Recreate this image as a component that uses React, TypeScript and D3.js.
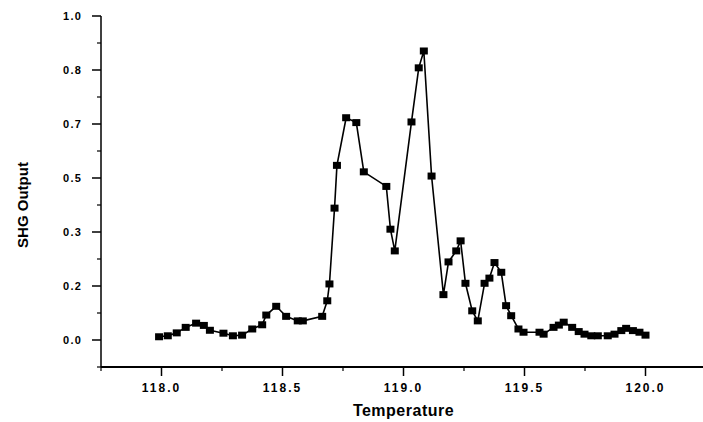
import React from "react";
import * as d3 from "d3";

const temperature: number[] = [
  117.99, 118.026, 118.063, 118.1, 118.143, 118.175, 118.2, 118.256, 118.295, 118.333,
  118.375, 118.416, 118.433, 118.474, 118.515, 118.563, 118.584, 118.664, 118.685, 118.694,
  118.715, 118.725, 118.763, 118.805, 118.836, 118.929, 118.946, 118.964, 119.033, 119.063,
  119.084, 119.116, 119.165, 119.186, 119.218, 119.236, 119.256, 119.284, 119.307, 119.335,
  119.355, 119.376, 119.404, 119.424, 119.445, 119.475, 119.496, 119.562, 119.579, 119.62,
  119.642, 119.662, 119.697, 119.724, 119.748, 119.776, 119.803, 119.844, 119.872, 119.9,
  119.92, 119.948, 119.975, 120.0,
];
const shgOutput: number[] = [
  0.01, 0.013, 0.022, 0.039, 0.052, 0.045, 0.03, 0.021, 0.013, 0.015,
  0.034, 0.047, 0.077, 0.104, 0.073, 0.059, 0.059, 0.073, 0.121, 0.173,
  0.407, 0.539, 0.686, 0.671, 0.519, 0.474, 0.342, 0.275, 0.673, 0.84,
  0.892, 0.506, 0.14, 0.241, 0.275, 0.306, 0.175, 0.09, 0.059, 0.175,
  0.191, 0.239, 0.209, 0.106, 0.075, 0.034, 0.024, 0.024, 0.018, 0.039,
  0.046, 0.055, 0.039, 0.026, 0.018, 0.013, 0.013, 0.013, 0.018, 0.029,
  0.036, 0.029, 0.024, 0.015,
];

const xMajorTicks: number[] = [118.0, 118.5, 119.0, 119.5, 120.0];
const xTickLabels: string[] = ["118.0", "118.5", "119.0", "119.5", "120.0"];
const xMinorTicks: number[] = [117.75, 118.25, 118.75, 119.25, 119.75, 120.25];
const yMajorTicks: number[] = [0, 1 / 6, 2 / 6, 3 / 6, 4 / 6, 5 / 6, 1];
const yTickLabels: string[] = ["0.0", "0.2", "0.3", "0.5", "0.7", "0.8", "1.0"];
const yMinorTicks: number[] = [-1 / 12, 1 / 12, 3 / 12, 5 / 12, 7 / 12, 9 / 12, 11 / 12];

const W = 703;
const H = 422;
const FONT = "'Liberation Sans', Arial, sans-serif";

export default function App() {
  const x = d3.scaleLinear().domain([117.75, 120.25]).range([101, 706]);
  const y = d3.scaleLinear().domain([-1 / 12, 1]).range([367, 16]);
  const pts = temperature.map((t, i) => [t, shgOutput[i]] as [number, number]);
  const line = d3
    .line<[number, number]>()
    .x((d) => x(d[0]))
    .y((d) => y(d[1]));
  const x0 = x(117.75);
  const yb = y(-1 / 12);

  return (
    <svg
      width={W}
      height={H}
      style={{ position: "absolute", left: 0, top: 0, background: "#fff" }}
    >
      <rect x={0} y={0} width={W} height={H} fill="#fff" />
      {/* axes */}
      <line x1={x0} x2={W} y1={yb} y2={yb} stroke="#000" strokeWidth={2} />
      <line x1={x0} x2={x0} y1={y(1)} y2={yb} stroke="#000" strokeWidth={1.5} />
      {/* y ticks */}
      {yMajorTicks.map((v, i) => (
        <g key={"ym" + i}>
          <line x1={x0 - 9} x2={x0} y1={y(v)} y2={y(v)} stroke="#000" strokeWidth={1.5} />
          <text
            x={82}
            y={y(v)}
            dy="0.35em"
            textAnchor="end"
            fontFamily={FONT}
            fontWeight="bold"
            fontSize={11}
            letterSpacing={1.2}
          >
            {yTickLabels[i]}
          </text>
        </g>
      ))}
      {yMinorTicks.map((v, i) => (
        <line key={"yn" + i} x1={x0 - 4} x2={x0} y1={y(v)} y2={y(v)} stroke="#000" strokeWidth={1.2} />
      ))}
      {/* x ticks */}
      {xMajorTicks.map((v, i) => (
        <g key={"xm" + i}>
          <line x1={x(v)} x2={x(v)} y1={yb} y2={yb + 9} stroke="#000" strokeWidth={1.5} />
          <text
            x={x(v)}
            y={392}
            textAnchor="middle"
            fontFamily={FONT}
            fontWeight="bold"
            fontSize={12}
            letterSpacing={2}
          >
            {xTickLabels[i]}
          </text>
        </g>
      ))}
      {xMinorTicks.map((v, i) => (
        <line key={"xn" + i} x1={x(v)} x2={x(v)} y1={yb} y2={yb + 4} stroke="#000" strokeWidth={1.2} />
      ))}
      {/* titles */}
      <text
        x={x(119.0)}
        y={416}
        textAnchor="middle"
        fontFamily={FONT}
        fontWeight="bold"
        fontSize={16}
        letterSpacing={0.5}
      >
        Temperature
      </text>
      <text
        transform={`translate(28, ${205}) rotate(-90)`}
        textAnchor="middle"
        fontFamily={FONT}
        fontWeight="bold"
        fontSize={15}
      >
        SHG Output
      </text>
      {/* data */}
      <path d={line(pts) || ""} fill="none" stroke="#000" strokeWidth={1.6} />
      {pts.map((d, i) => (
        <rect
          key={"p" + i}
          x={x(d[0]) - 4}
          y={y(d[1]) - 3.5}
          width={8}
          height={7}
          fill="#000"
        />
      ))}
    </svg>
  );
}
